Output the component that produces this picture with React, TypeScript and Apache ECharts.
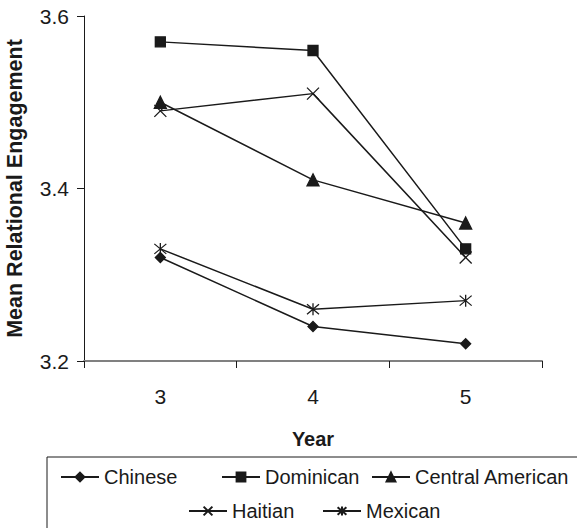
import React, { useEffect, useRef } from "react";
import * as echarts from "echarts";

const years = ["3", "4", "5"];
const chinese = [3.32, 3.24, 3.22];
const dominican = [3.57, 3.56, 3.33];
const centralAmerican = [3.5, 3.41, 3.36];
const haitian = [3.49, 3.51, 3.32];
const mexican = [3.33, 3.26, 3.27];
const yTicks = { min: 3.2, max: 3.6, interval: 0.2 };

const FONT = "'Liberation Sans', Arial, sans-serif";
const INK = "#1a1a1a";

const X_SYMBOL = "path://M0,0L12,12M12,0L0,12";
const STAR_SYMBOL = "path://M0,1L12,11M12,1L0,11M6,0L6,12";

export default function App() {
  const ref = useRef<HTMLDivElement>(null);
  useEffect(() => {
    if (!ref.current) return;
    const chart = echarts.init(ref.current, undefined, { renderer: "svg" });
    const mkSeries = (name: string, data: number[], symbol: string, size: number) => ({
      name,
      type: "line",
      data,
      symbol,
      symbolSize: size,
      showSymbol: true,
      lineStyle: { color: INK, width: 1.5 },
      itemStyle: { color: INK, borderColor: INK, borderWidth: 1.3 },
      emphasis: { disabled: true },
    });
    const mkLegend = (name: string, left: number, top: number) => ({
      data: [name],
      left,
      top,
      orient: "horizontal",
      padding: 0,
      itemWidth: 38,
      itemHeight: 11,
      selectedMode: false,
      textStyle: { fontSize: 20, fontFamily: FONT, color: INK },
    });
    chart.setOption({
      animation: false,
      backgroundColor: "#ffffff",
      grid: { left: 84, top: 16, right: 35, bottom: 167, containLabel: false, outerBoundsMode: "none" },
      xAxis: {
        type: "category",
        data: years,
        boundaryGap: true,
        name: "Year",
        nameLocation: "middle",
        nameGap: 68,
        nameTextStyle: { fontSize: 20, fontWeight: "bold", fontFamily: FONT, color: INK },
        axisLine: { lineStyle: { color: "#808080", width: 2 } },
        axisTick: { show: true, length: 7, interval: 0, lineStyle: { color: INK, width: 1 } },
        axisLabel: { interval: 0, margin: 25, fontSize: 21, fontFamily: FONT, color: INK },
        splitLine: { show: false },
      },
      yAxis: {
        type: "value",
        min: yTicks.min,
        max: yTicks.max,
        interval: yTicks.interval,
        name: "Mean Relational Engagement",
        nameLocation: "middle",
        nameGap: 58,
        nameTextStyle: { fontSize: 21.5, fontWeight: "bold", fontFamily: FONT, color: INK },
        axisLine: { show: true, lineStyle: { color: INK, width: 1 } },
        axisTick: { show: true, length: 7, lineStyle: { color: INK, width: 1 } },
        axisLabel: {
          margin: 15,
          fontSize: 21,
          fontFamily: FONT,
          color: INK,
          formatter: (v: number) => v.toFixed(1),
        },
        splitLine: { show: false },
      },
      legend: [
        mkLegend("Chinese", 60, 467),
        mkLegend("Dominican", 221, 467),
        mkLegend("Central American", 371, 467),
        mkLegend("Haitian", 188, 501),
        mkLegend("Mexican", 322, 501),
      ],
      graphic: [
        {
          type: "rect",
          shape: { x: 47, y: 457, width: 600, height: 120 },
          style: { fill: "none", stroke: INK, lineWidth: 1 },
          silent: true,
        },
      ],
      series: [
        mkSeries("Chinese", chinese, "diamond", 10),
        mkSeries("Dominican", dominican, "rect", 10),
        mkSeries("Central American", centralAmerican, "triangle", 12),
        mkSeries("Haitian", haitian, X_SYMBOL, 12),
        mkSeries("Mexican", mexican, STAR_SYMBOL, 12),
      ],
    });
    return () => chart.dispose();
  }, []);
  return (
    <div
      ref={ref}
      style={{ position: "absolute", left: 0, top: 0, width: 577, height: 528 }}
    />
  );
}
